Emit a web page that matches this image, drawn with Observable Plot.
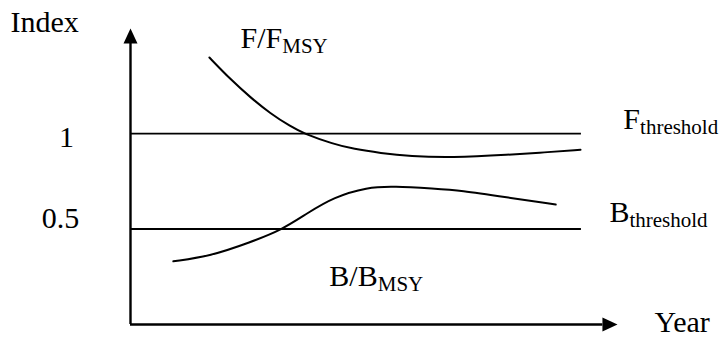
<!DOCTYPE html>
<html>
<head>
<meta charset="utf-8">
<script src="https://cdn.jsdelivr.net/npm/d3@7"></script>
<script src="https://cdn.jsdelivr.net/npm/@observablehq/plot@0.6"></script>
<style>
  html, body { margin: 0; padding: 0; background: #fff; }
  #chart { width: 719px; height: 338px; }
</style>
</head>
<body>
<div id="chart"></div>
<script>
// ---- Data (schematic index vs. year) ----
const fYear  = [17.5, 22.2, 26.6, 31.0, 35.5, 38.4, 45.0, 49.5, 55.4, 62.1, 71.0, 84.3, 91.6, 99.8];
const fIndex = [1.398, 1.283, 1.189, 1.105, 1.037, 1.0, 0.945, 0.919, 0.898, 0.881, 0.873, 0.889, 0.901, 0.915];

const bYear  = [9.5, 17.7, 26.6, 33.6, 39.2, 45.1, 52.5, 58.4, 67.3, 73.2, 83.2, 94.3];
const bIndex = [0.331, 0.358, 0.431, 0.496, 0.583, 0.667, 0.719, 0.724, 0.711, 0.702, 0.667, 0.628];

const thresholdLevels = [1, 0.5];
const thresholdStart = 0;
const thresholdEnd = 100;

const yTickLabels = ["1", "0.5"];
const yTickLabelX = [-14.2, -15.5];
const yTickLabelY = [0.932, 0.503];

const labels = ["Index", "F/F_MSY", "F_threshold", "B_threshold", "B/B_MSY", "Year"];
const labelX = [-26.6, 24.4, 109.3, 106.2, 44.1, 116.2];
const labelY = [1.534, 1.450, 1.026, 0.539, 0.204, -0.037];

const xMax = 108;
const yMax = 1.55;

// ---- Build tables ----
const fData = fYear.map((x, i) => ({x, y: fIndex[i]}));
const bData = bYear.map((x, i) => ({x, y: bIndex[i]}));
const tickData = yTickLabels.map((t, i) => ({t, x: yTickLabelX[i], y: yTickLabelY[i]}));
const labelData = labels.map((t, i) => ({t, x: labelX[i], y: labelY[i]}));

// custom filled arrowhead symbols (apex at the anchor point)
const arrowUp = {
  draw(ctx, size) {
    const k = Math.sqrt(size / Math.PI);
    ctx.moveTo(0, 0);
    ctx.lineTo(-k, 2.15 * k);
    ctx.lineTo(k, 2.15 * k);
    ctx.closePath();
  }
};
const arrowRight = {
  draw(ctx, size) {
    const k = Math.sqrt(size / Math.PI);
    ctx.moveTo(0, 0);
    ctx.lineTo(-2.15 * k, -k);
    ctx.lineTo(-2.15 * k, k);
    ctx.closePath();
  }
};

const chart = Plot.plot({
  width: 719,
  height: 338,
  marginLeft: 130,
  marginRight: 102,
  marginTop: 28,
  marginBottom: 14,
  x: {domain: [0, xMax], axis: null},
  y: {domain: [0, yMax], axis: null},
  style: {fontFamily: "'Liberation Serif', 'Times New Roman', serif", background: "#fff", color: "#000", overflow: "visible"},
  marks: [
    // axes
    Plot.ruleX([0], {y1: 0, y2: yMax * 0.97, stroke: "#000", strokeWidth: 2.4}),
    Plot.ruleY([0], {x1: 0, x2: xMax * 0.97, stroke: "#000", strokeWidth: 2.4}),
    Plot.dot([{x: 0, y: yMax}], {x: "x", y: "y", symbol: arrowUp, r: 7, fill: "#000", stroke: "none"}),
    Plot.dot([{x: xMax, y: 0}], {x: "x", y: "y", symbol: arrowRight, r: 7, fill: "#000", stroke: "none"}),
    // threshold lines
    Plot.ruleY(thresholdLevels, {x1: thresholdStart, x2: thresholdEnd, stroke: "#000", strokeWidth: 1.8}),
    // curves
    Plot.line(fData, {x: "x", y: "y", curve: "basis", stroke: "#000", strokeWidth: 2}),
    Plot.line(bData, {x: "x", y: "y", curve: "basis", stroke: "#000", strokeWidth: 2}),
    // tick labels
    Plot.text(tickData, {x: "x", y: "y", text: "t", textAnchor: "middle", lineAnchor: "bottom", fontSize: 30, fill: "#000"}),
    // labels
    Plot.text(labelData, {x: "x", y: "y", text: "t", textAnchor: "start", lineAnchor: "bottom", fontSize: 30, fill: "#000"})
  ]
});

// turn "_xxx" into subscripts
chart.querySelectorAll("text").forEach(t => {
  const s = t.textContent;
  const i = s.indexOf("_");
  if (i < 0) return;
  t.textContent = "";
  const ns = "http://www.w3.org/2000/svg";
  const a = document.createElementNS(ns, "tspan");
  a.textContent = s.slice(0, i);
  const b = document.createElementNS(ns, "tspan");
  b.textContent = s.slice(i + 1);
  b.setAttribute("font-size", "21");
  b.setAttribute("dy", "5");
  t.appendChild(a);
  t.appendChild(b);
});

document.getElementById("chart").appendChild(chart);
</script>
</body>
</html>
